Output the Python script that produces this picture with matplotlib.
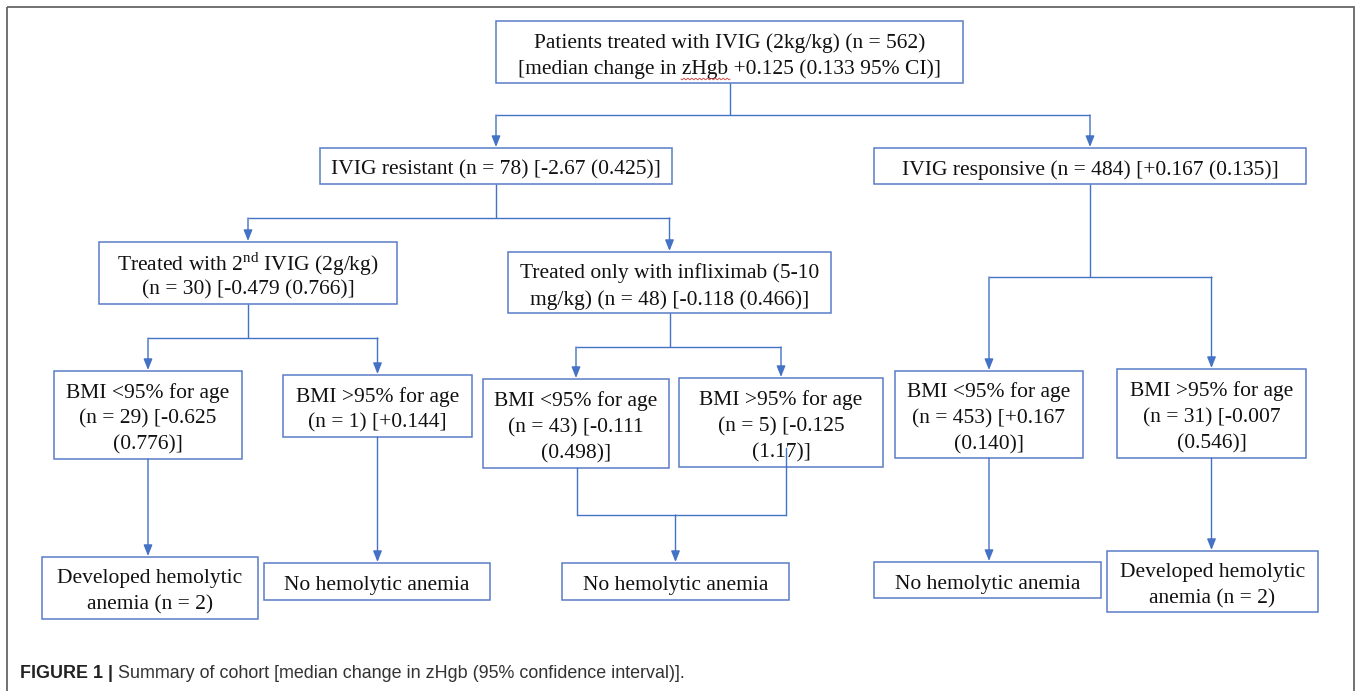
import matplotlib
matplotlib.use("Agg")
import matplotlib.pyplot as plt
import numpy as np

# ---------------- data (texts of the flowchart) ----------------
node_ids = ["root", "res", "resp", "ivig2", "infl",
            "L1", "L2", "M1", "M2", "R1", "R2",
            "B1", "B2", "B3", "B4", "B5"]
node_lines = [
    ["Patients treated with IVIG (2kg/kg) (n = 562)",
     "[median change in zHgb +0.125 (0.133 95% CI)]"],
    ["IVIG resistant (n = 78) [-2.67 (0.425)]"],
    ["IVIG responsive (n = 484) [+0.167 (0.135)]"],
    ["Treated with 2$^{\\mathrm{nd}}$ IVIG (2g/kg)", "(n = 30) [-0.479 (0.766)]"],
    ["Treated only with infliximab (5-10", "mg/kg) (n = 48) [-0.118 (0.466)]"],
    ["BMI <95% for age", "(n = 29) [-0.625", "(0.776)]"],
    ["BMI >95% for age", "(n = 1) [+0.144]"],
    ["BMI <95% for age", "(n = 43) [-0.111", "(0.498)]"],
    ["BMI >95% for age", "(n = 5) [-0.125", "(1.17)]"],
    ["BMI <95% for age", "(n = 453) [+0.167", "(0.140)]"],
    ["BMI >95% for age", "(n = 31) [-0.007", "(0.546)]"],
    ["Developed hemolytic", "anemia (n = 2)"],
    ["No hemolytic anemia"],
    ["No hemolytic anemia"],
    ["No hemolytic anemia"],
    ["Developed hemolytic", "anemia (n = 2)"],
]
# parent -> children links
links = [("root", ["res", "resp"]), ("res", ["ivig2", "infl"]),
         ("resp", ["R1", "R2"]), ("ivig2", ["L1", "L2"]),
         ("infl", ["M1", "M2"]),
         ("L1", ["B1"]), ("L2", ["B2"]), ("R1", ["B4"]), ("R2", ["B5"])]
merges = [(["M1", "M2"], "B3")]
caption_bold = "FIGURE 1 |"
caption_text = " Summary of cohort [median change in zHgb (95% confidence interval)]."

# ---------------- layout (pixel canvas) ----------------
W, H = 1357, 691
box_geom = {
    "root": (496, 21, 963, 83),
    "res": (320, 148, 672, 184),
    "resp": (874, 148, 1306, 184),
    "ivig2": (99, 242, 397, 304),
    "infl": (508, 252, 831, 313),
    "L1": (54, 371, 242, 459),
    "L2": (283, 375, 472, 437),
    "M1": (483, 379, 669, 468),
    "M2": (679, 378, 883, 467),
    "R1": (895, 371, 1083, 458),
    "R2": (1117, 369, 1306, 458),
    "B1": (42, 557, 258, 619),
    "B2": (264, 563, 490, 600),
    "B3": (562, 563, 789, 600),
    "B4": (874, 562, 1101, 598),
    "B5": (1107, 551, 1318, 612),
}
bar_y = {"root": 115, "res": 218, "resp": 277, "ivig2": 338, "infl": 347}
merge_bar_y = 515
merge_src_x = {"M1": 577, "M2": 786}
merge_src_y = {"M1": 468, "M2": 448}
line_gap = 26.3

line_col = "#4472C4"
box_col = "#5A7DC6"
txt_col = "#111111"
serif = ["Liberation Serif", "DejaVu Serif"]

plt.rcParams["mathtext.fontset"] = "custom"
plt.rcParams["mathtext.rm"] = "Liberation Serif"

fig = plt.figure(figsize=(W / 100, H / 100), dpi=100)
ax = fig.add_axes([0, 0, 1, 1])
ax.set_xlim(0, W)
ax.set_ylim(H, 0)
ax.axis("off")

# outer frame
ax.add_patch(plt.Rectangle((6.5, 6.5), 1347, 700, fill=False,
                           edgecolor="#666666", lw=1.3, clip_on=True))


def cx(n):
    g = box_geom[n]
    return (g[0] + g[2]) / 2


def arrow(x, y0, y1):
    ax.annotate("", xy=(x, y1), xytext=(x, y0),
                arrowprops=dict(arrowstyle="-|>,head_length=0.55,head_width=0.22",
                                color=line_col, lw=1.0, shrinkA=0, shrinkB=0,
                                mutation_scale=12))


def seg(xs, ys):
    ax.plot(xs, ys, color=line_col, lw=1.0, solid_capstyle="butt")


# boxes and text
for nid, lines in zip(node_ids, node_lines):
    x0, y0, x1, y1 = box_geom[nid]
    ax.add_patch(plt.Rectangle((x0, y0), x1 - x0, y1 - y0, fill=True,
                               facecolor="white", edgecolor=box_col, lw=1.1,
                               zorder=2))
    c_y = (y0 + y1) / 2 + 4
    n = len(lines)
    for i, t in enumerate(lines):
        ax.text((x0 + x1) / 2, c_y + (i - (n - 1) / 2) * line_gap, t,
                ha="center", va="center", fontsize=15.5, family=serif,
                color=txt_col, zorder=3)

# spell-check wavy underline under zHgb
wx = np.linspace(681, 730, 60)
ax.plot(wx, 79 + 0.9 * np.sin((wx - 681) * 1.6), color="#d04040", lw=0.6, zorder=4)

# parent -> children connectors
for parent, kids in links:
    px = cx(parent)
    py = box_geom[parent][3]
    if len(kids) == 1:
        k = kids[0]
        arrow(px, py, box_geom[k][1] - 1)
        continue
    by = bar_y[parent]
    seg([px, px], [py, by])
    xs = [cx(k) for k in kids]
    seg([min(xs), max(xs)], [by, by])
    for k in kids:
        arrow(cx(k), by, box_geom[k][1] - 1)

# merge connectors
for srcs, dst in merges:
    for s in srcs:
        ax.plot([merge_src_x[s]] * 2, [merge_src_y[s], merge_bar_y],
                color=line_col, lw=1.0, zorder=4)
    xs = [merge_src_x[s] for s in srcs]
    seg([min(xs), max(xs)], [merge_bar_y, merge_bar_y])
    arrow(cx(dst), merge_bar_y, box_geom[dst][1] - 1)

# caption
fig.canvas.draw()
r = fig.canvas.get_renderer()
t1 = ax.text(20, 673, caption_bold, ha="left", va="center", fontsize=12.9,
             family="Liberation Sans", weight="bold", color="#222222")
bb = t1.get_window_extent(renderer=r)
x_end = ax.transData.inverted().transform((bb.x1, bb.y0))[0]
ax.text(x_end, 673, caption_text, ha="left", va="center", fontsize=12.9,
        family="Liberation Sans", color="#333333")

fig.savefig("out.png", dpi=100, facecolor="white")
